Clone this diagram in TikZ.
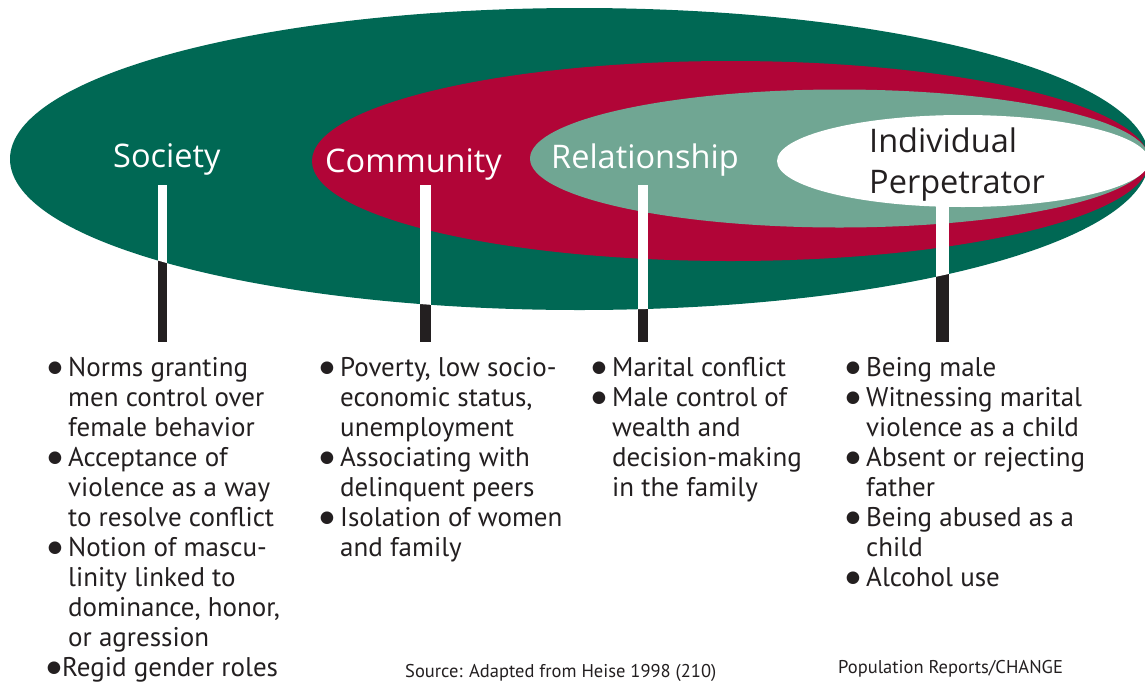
\documentclass[tikz,border=0pt]{standalone}
\usepackage{fontspec}
\setmainfont{Open Sans}
\newfontfamily\bodyf{PT Sans}
\newfontfamily\symf{DejaVu Sans}
\definecolor{dkgreen}{RGB}{0,104,84}
\definecolor{ringred}{RGB}{177,5,55}
\definecolor{ltgreen}{RGB}{112,166,147}
\definecolor{ink}{RGB}{35,31,32}
\newcommand{\bulmark}{\raisebox{4pt}{\symf\fontsize{16.5}{16.5}\selectfont ●}}
\newcommand{\bul}{\leavevmode\llap{\bulmark\hspace{6pt}}}
\newcommand{\bultight}{\leavevmode\hspace{-6pt}\llap{\bulmark\hspace{1pt}}}
\newcommand{\listbox}[1]{\parbox[t]{300pt}{\raggedright\bodyf\fontsize{27}{30}\selectfont #1}}
\tikzset{
  ringlabel/.style={anchor=base west, inner sep=0pt, font=\fontsize{32.5}{41}\selectfont},
  itemlist/.style={anchor=base west, inner sep=0pt, text=ink},
  pole/.style={line width=#1, line cap=butt},
  foot/.style={anchor=base west, inner sep=0pt, text=ink, font=\bodyf\fontsize{18.5}{20}\selectfont}
}
\begin{document}
\begin{tikzpicture}[x=1pt,y=-1pt]
\useasboundingbox (0,0) rectangle (1145,686);
\begin{scope}
  \clip (0,0) rectangle (1145,686);
  \fill[dkgreen] (579.5,159) ellipse [x radius=569.5, y radius=151];
  \fill[ringred] (730.5,161) ellipse [x radius=418.5, y radius=100];
  \fill[ltgreen] (839.5,158.5) ellipse [x radius=309.5, y radius=69];
  \fill[white] (963,161) ellipse [x radius=186, y radius=46];
\end{scope}
% poles
\coordinate (socA) at (162.5,185); \coordinate (socB) at (162.5,342);
\coordinate (comA) at (425.5,185); \coordinate (comB) at (425.5,342);
\coordinate (relA) at (643,185);   \coordinate (relB) at (643,342);
\coordinate (indA) at (942,200);   \coordinate (indB) at (942,342);
\draw[pole=9pt, ink] (socA) -- (socB);
\draw[pole=10.5pt, ink] (comA) -- (comB);
\draw[pole=10pt, ink] (relA) -- (relB);
\draw[pole=13pt, ink] (indA) -- (indB);
\begin{scope}
  \clip (579.5,159) ellipse [x radius=569.5, y radius=151];
  \draw[pole=9pt, white] (socA) -- (socB);
  \draw[pole=10.5pt, white] (comA) -- (comB);
  \draw[pole=10pt, white] (relA) -- (relB);
  \draw[pole=13pt, white] (indA) -- (indB);
\end{scope}
% labels
\node[ringlabel, text=white] (soc) at (113,167) {Society};
\node[ringlabel, text=white] (com) at (325,172) {Community};
\node[ringlabel, text=white] (rel) at (551,168) {Relationship};
\node[ringlabel, text=ink] (ind) at (869,152) {\parbox[t]{250pt}{\fontsize{32.5}{41}\selectfont Individual\\Perpetrator}};
% lists
\node[itemlist] (socL) at (68,376) {\listbox{\bul Norms granting\\ men control over\\ female behavior\\ \bul Acceptance of\\ violence as a way\\ to resolve conflict\\ \bul Notion of mascu-\\ linity linked to\\ dominance, honor,\\ or agression\\ \bultight Regid gender roles}};
\node[itemlist] (comL) at (340,376) {\listbox{\bul Poverty, low socio-\\ economic status,\\ unemployment\\ \bul Associating with\\ delinquent peers\\ \bul Isolation of women\\ and family}};
\node[itemlist] (relL) at (612,376) {\listbox{\bul Marital conflict\\ \bul Male control of\\ wealth and\\ decision-making\\ in the family}};
\node[itemlist] (indL) at (866,376) {\listbox{\bul Being male\\ \bul Witnessing marital\\ violence as a child\\ \bul Absent or rejecting\\ father\\ \bul Being abused as a\\ child\\ \bul Alcohol use}};
% footers
\node[foot] (src) at (405,677) {Source: Adapted from Heise 1998 (210)};
\node[foot] (pop) at (838,673) {Population Reports/CHANGE};
\end{tikzpicture}
\end{document}
